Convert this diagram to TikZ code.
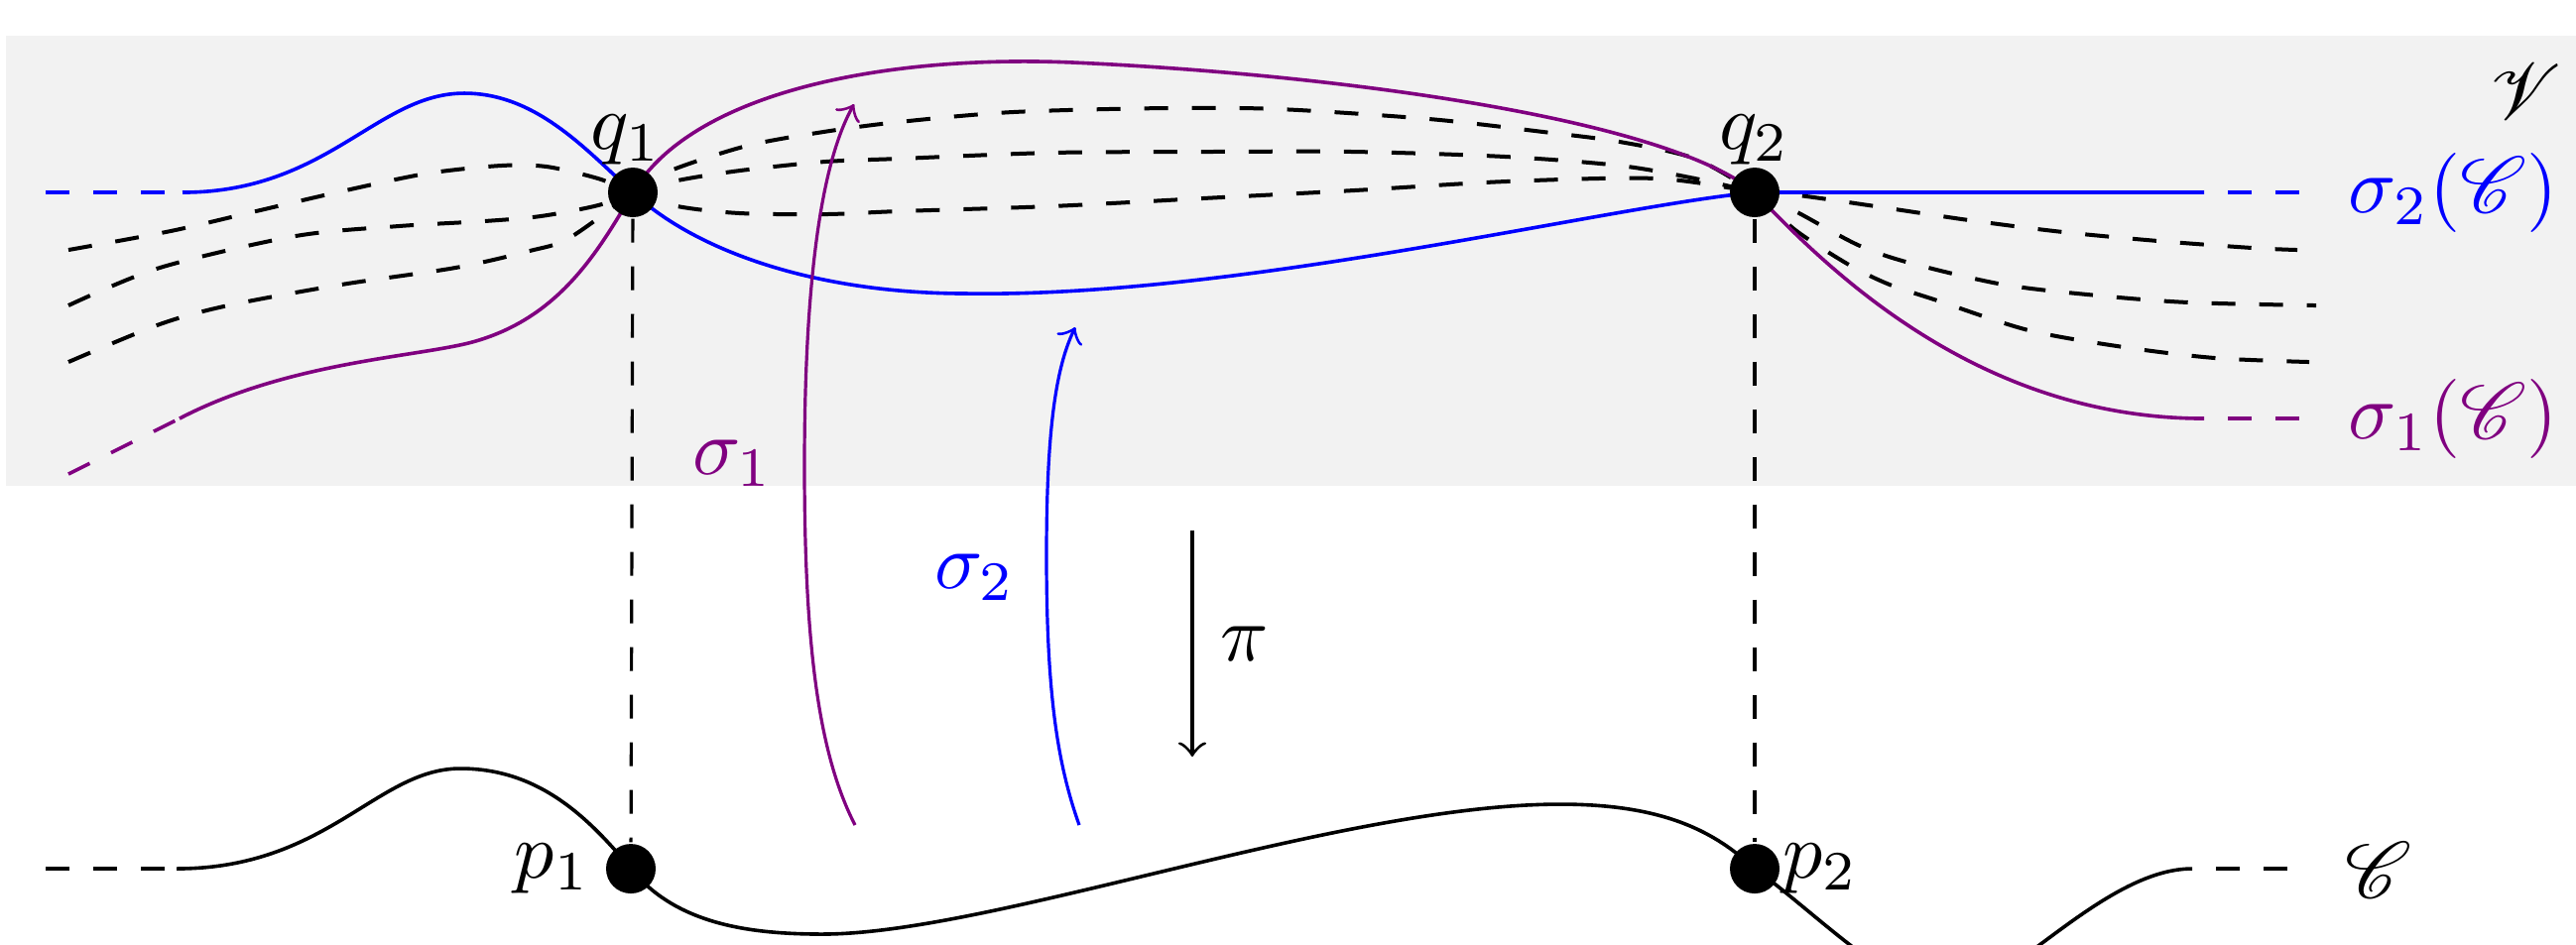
\documentclass[tikz,border=0pt]{standalone}
\usepackage{mathrsfs}
\usetikzlibrary{positioning}
\definecolor{fibpane}{gray}{0.95}
\tikzset{
  fdot/.style={circle, fill=black, inner sep=0pt, minimum size=6.25pt},
  fcurve/.style={line width=0.45pt},
  fleaf/.style={dashed, line width=0.5pt},
  fvert/.style={dashed, line width=0.4pt},
  fmap/.style={->, line width=0.4pt},
  flbl/.style={inner sep=0pt}
}

\begin{document}
\begin{tikzpicture}[x=0.125pt, y=-0.125pt]
    \clip (0,0) rectangle (2597,952);
    \fill[fibpane] (6,36) rectangle (2597,490);
    \coordinate (q1) at (638,194);
    \coordinate (q2) at (1769,194);
    \coordinate (p1) at (636,876);
    \coordinate (p2) at (1769,876);
    % leaves through q1 and q2
    \draw[fleaf] plot[smooth] coordinates {(69,252) (172,233) (258,213) (344,193) (430,175) (505,167) (551,168) (603,180) (q1)};
    \draw[fleaf] plot[smooth] coordinates {(69,308) (161,270) (298,238) (402,228) (488,223) (545,218) (603,207) (q1)};
    \draw[fleaf] plot[smooth] coordinates {(69,365) (161,327) (230,308) (344,287) (459,270) (534,253) (574,240) (q1)};
    \draw[fleaf] plot[smooth] coordinates {(q1) (676,172) (753,147) (830,133) (906,123) (1021,113) (1174,109) (1289,110) (1441,120) (1556,133) (1633,143) (1709,160) (q2)};
    \draw[fleaf] plot[smooth] coordinates {(q1) (683,182) (746,172) (832,163) (906,160) (1059,154) (1212,153) (1365,153) (1518,158) (1633,167) (1709,180) (q2)};
    \draw[fleaf] plot[smooth] coordinates {(q1) (683,208) (746,215) (832,216) (906,213) (1059,208) (1212,200) (1365,192) (1518,183) (1671,180) (q2)};
    \draw[fleaf] plot[smooth] coordinates {(q2) (1813,197) (1884,207) (1985,222) (2080,234) (2176,243) (2271,250) (2316,252)};
    \draw[fleaf] plot[smooth] coordinates {(q2) (1810,213) (1873,247) (1925,265) (2020,287) (2115,298) (2207,305) (2335,308)};
    \draw[fleaf] plot[smooth] coordinates {(q2) (1810,232) (1864,267) (1905,287) (1953,303) (2045,333) (2141,350) (2233,361) (2328,365)};
    % section sigma_2
    \draw[fcurve, blue, dashed] (46,194) -- (184,194);
    \draw[fcurve, blue] (184,194) .. controls (330,194) and (380,94) .. (468,94)
      .. controls (540,94) and (590,150) .. (q1)
      .. controls (700,252) and (820,296) .. (975,296)
      .. controls (1250,300) and (1620,208) .. (q2) -- (2222,194);
    \draw[fcurve, blue, dashed, dash phase=3pt] (2222,194) -- (2322,194);
    % section sigma_1
    \draw[fcurve, violet, dashed] (69,478) -- (181,422);
    \draw[fcurve, violet] (181,422) .. controls (290,365) and (420,360) .. (476,345)
      .. controls (560,322) and (600,260) .. (q1)
      .. controls (700,90) and (900,55) .. (1082,63)
      .. controls (1350,75) and (1680,120) .. (q2)
      .. controls (1850,280) and (2000,422) .. (2222,422);
    \draw[fcurve, violet, dashed, dash phase=3pt] (2222,422) -- (2322,422);
    % base curve
    \draw[fcurve, dashed] (46,876) -- (178,876);
    \draw[fcurve] (178,876) .. controls (330,876) and (380,775) .. (464,775)
      .. controls (540,775) and (590,820) .. (p1)
      .. controls (680,930) and (750,942) .. (829,942)
      .. controls (1000,942) and (1350,811) .. (1573,811)
      .. controls (1680,811) and (1730,840) .. (p2)
      .. controls (1830,920) and (1910,1003) .. (1964,1003)
      .. controls (2020,1003) and (2120,876) .. (2210,876);
    \draw[fcurve, dashed, dash phase=3pt] (2210,876) -- (2317,876);
    % maps
    \draw[fmap, violet] (862,832) .. controls (825,760) and (811,650) .. (811,470)
      .. controls (811,300) and (825,170) .. (861,105);
    \draw[fmap, blue] (1088,832) .. controls (1066,770) and (1055,700) .. (1055,560)
      .. controls (1055,430) and (1065,370) .. (1084,330);
    \coordinate (pitop) at (1202,535);
    \coordinate (pibot) at (1202,763);
    \draw[fmap] (pitop) -- (pibot) node[midway, right] (lpi) {$\pi$};
    % points
    \node[fdot] (dq1) at (q1) {};
    \node[fdot] (dq2) at (q2) {};
    \node[fdot] (dp1) at (p1) {};
    \node[fdot] (dp2) at (p2) {};
    \draw[fvert] (dq1) -- (dp1);
    \draw[fvert] (dq2) -- (dp2);
    % labels
    \node[flbl, above=0pt of dq1, xshift=-0.8pt] (lq1) {$q_1$};
    \node[flbl, above=0pt of dq2] (lq2) {$q_2$};
    \node[flbl, left=1.6pt of dp1] (lp1) {$p_1$};
    \node[flbl, right=0pt of dp2] (lp2) {$p_2$};
    \node[flbl, violet] (ls1) at (739,467) {$\sigma_1$};
    \node[flbl, blue] (ls2) at (983,582) {$\sigma_2$};
    \node[flbl] (lV) at (2546,92) {$\mathscr{V}$};
    \node[flbl, blue, anchor=west] (ls2C) at (2366,194) {$\sigma_2(\mathscr{C})$};
    \node[flbl, violet, anchor=west] (ls1C) at (2366,422) {$\sigma_1(\mathscr{C})$};
    \node[flbl, anchor=west] (lC) at (2363,877) {$\mathscr{C}$};
\end{tikzpicture}
\end{document}
